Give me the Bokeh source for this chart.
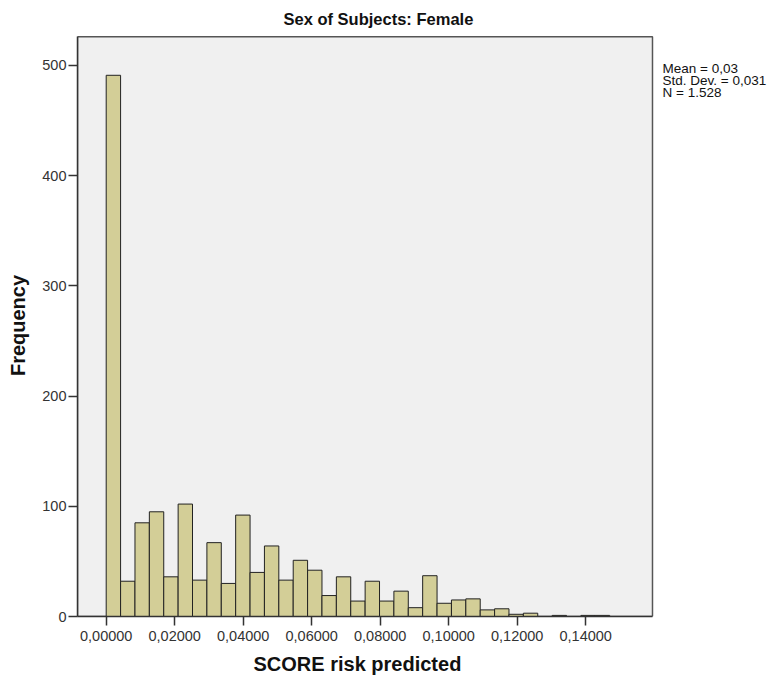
from bokeh.plotting import figure
from bokeh.models import FixedTicker, Label, Range1d, ColumnDataSource, Title
from bokeh.embed import file_html
from bokeh.resources import INLINE

# ---- data ----
bin_start = 0.0
bin_width = 0.0042
counts = [491, 32, 85, 95, 36, 102, 33, 67, 30, 92, 40, 64, 33, 51, 42, 19, 36, 14,
          32, 14, 23, 8, 37, 12, 15, 16, 6, 7, 2, 3, 0, 1, 0, 1, 1]
x_ticks = [0.0, 0.02, 0.04, 0.06, 0.08, 0.10, 0.12, 0.14]
x_tick_labels = ["0,00000", "0,02000", "0,04000", "0,06000", "0,08000",
                 "0,10000", "0,12000", "0,14000"]
y_ticks = [0, 100, 200, 300, 400, 500]
stats_lines = ["Mean = 0,03", "Std. Dev. = 0,031", "N = 1.528"]
title_text = "Sex of Subjects: Female"
x_label = "SCORE risk predicted"
y_label = "Frequency"

# plot-area extent (data units)
area_x0, area_x1 = -0.00838, 0.1595
area_y1 = 526

lefts = [bin_start + i * bin_width for i in range(len(counts))]
rights = [l + bin_width for l in lefts]
src = ColumnDataSource(dict(left=lefts, right=rights, top=counts,
                            bottom=[0] * len(counts)))

FONT = "Liberation Sans"

W, H = 770, 682
p = figure(width=W, height=H, output_backend="svg", toolbar_location=None,
           x_range=Range1d(area_x0, area_x0 + (W - 77) / 3425.0),
           y_range=Range1d(0, 528),
           min_border_left=77, min_border_top=34, min_border_right=0,
           min_border_bottom=H - 616)

p.background_fill_color = "white"
p.border_fill_color = "white"
p.outline_line_color = None
p.grid.visible = False

# grey plot area with border
p.quad(left=[area_x0], right=[area_x1], bottom=[0], top=[area_y1],
       fill_color="#F0F0F0", line_color="#555555", line_width=1.5)

p.quad(left="left", right="right", top="top", bottom="bottom", source=src,
       fill_color="#D3CE97", line_color="#222222", line_width=1)

# title
p.title.text = title_text
p.title.align = "left"
p.title.offset = 206
p.title.text_font = FONT
p.title.text_font_size = "16.5px"
p.title.text_font_style = "bold"
p.title.text_color = "#111111"
p.title.standoff = 14

# axes
for ax in (p.xaxis[0], p.yaxis[0]):
    ax.axis_line_color = "#333333"
    ax.axis_line_width = 1.5
    ax.major_tick_line_color = "#333333"
    ax.major_tick_line_width = 1.5
    ax.major_tick_in = 0
    ax.major_tick_out = 9
    ax.minor_tick_line_color = None
    ax.major_label_text_font = FONT
    ax.major_label_text_font_size = "14.5px"
    ax.major_label_text_color = "#333333"
    ax.axis_label_text_font = FONT
    ax.axis_label_text_font_size = "20px"
    ax.axis_label_text_font_style = "bold"
    ax.axis_label_text_color = "#111111"

p.xaxis.ticker = FixedTicker(ticks=x_ticks)
p.xaxis.major_label_overrides = {t: l for t, l in zip(x_ticks, x_tick_labels)}
p.xaxis.bounds = (area_x0, area_x1)
p.xaxis.major_label_standoff = 5

# x-axis label centred under the grey plot area (not the whole frame)
p.add_layout(Title(text=x_label, align="left", offset=176, text_font=FONT,
                   text_font_size="20px", text_font_style="bold",
                   text_color="#111111", standoff=14), "below")

p.yaxis.ticker = FixedTicker(ticks=y_ticks)
p.yaxis.bounds = (0, area_y1)
p.yaxis.major_label_standoff = 2
p.yaxis.axis_label = y_label
p.yaxis.axis_label_standoff = 10

# stats text to the right of the plot area
stats_x = area_x0 + (662 - 77) / 3425.0
for i, line in enumerate(stats_lines):
    p.add_layout(Label(x=stats_x, y=504 - i * 10.9, text=line,
                       text_font=FONT, text_font_size="13.5px",
                       text_color="#111111", text_baseline="top",
                       text_align="left"))

open("out.html", "w").write(file_html(p, INLINE))
